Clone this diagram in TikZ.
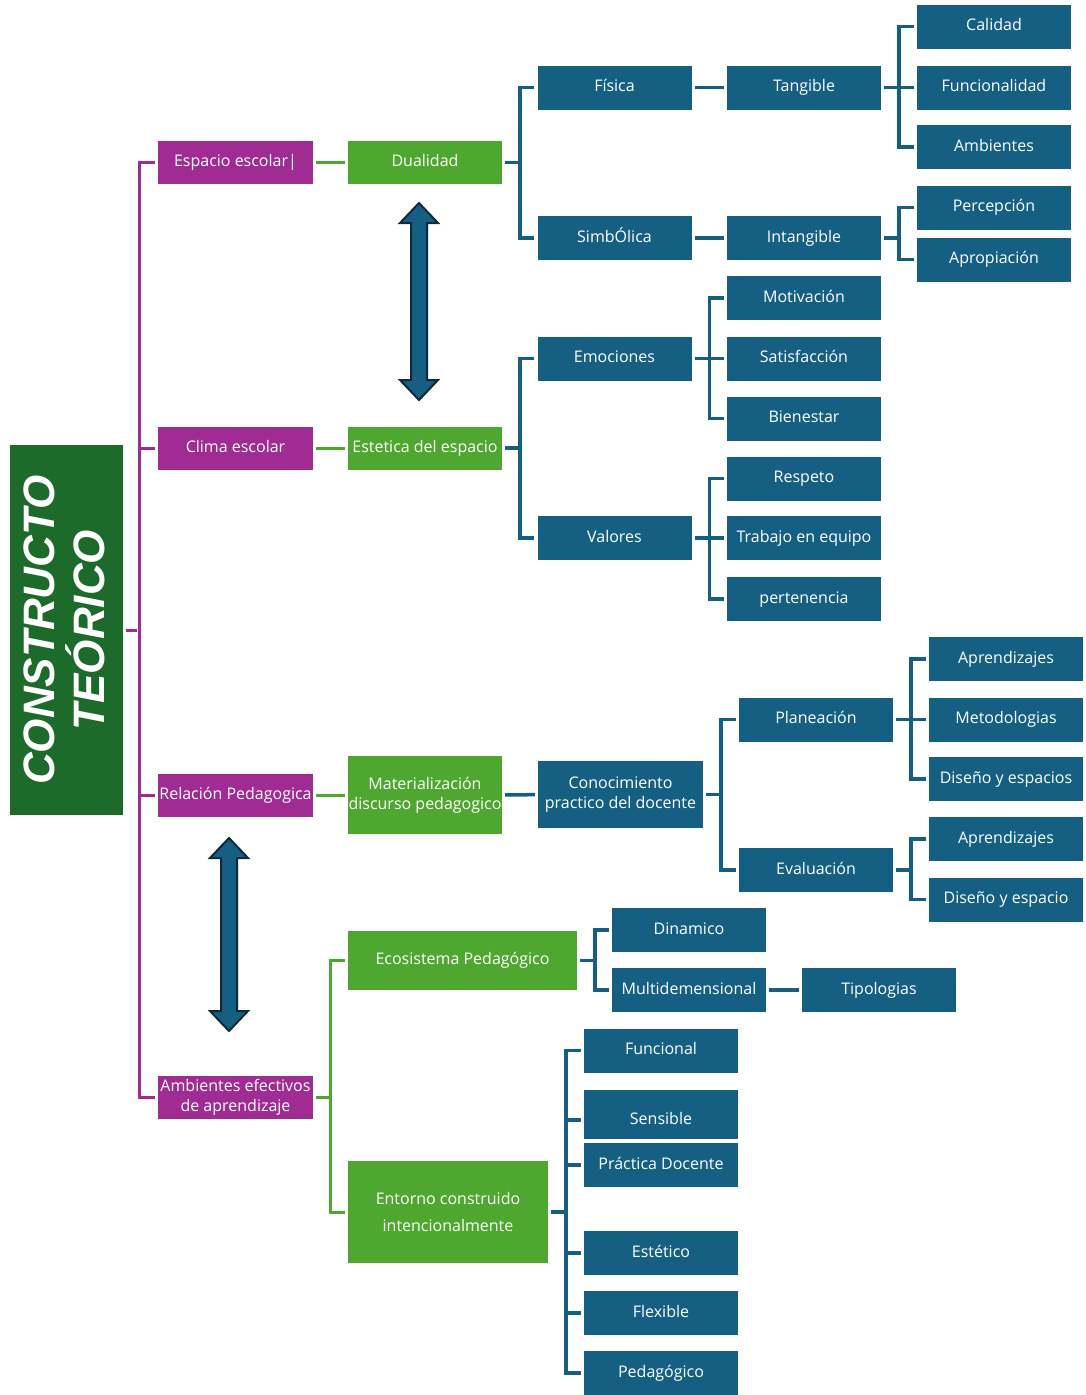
\documentclass[tikz,border=0pt]{standalone}
\usepackage{fontspec}
\setmainfont{Open Sans}
\newfontfamily\titlefont{Liberation Sans}
\definecolor{cblue}{HTML}{156082}
\definecolor{cpurple}{HTML}{A02B93}
\definecolor{cgreen}{HTML}{4EA72E}
\definecolor{cdgreen}{HTML}{1D6B2B}
\definecolor{cdark}{HTML}{0E2A3A}
\tikzset{
  box/.style={rectangle, inner sep=0pt, text=white, align=center, minimum width=154pt, minimum height=44pt},
  one/.style={text height=11.5pt, text depth=3.5pt},
  bb/.style={box, fill=cblue},
  pb/.style={box, fill=cpurple, minimum width=155pt, minimum height=43pt},
  gb/.style={box, fill=cgreen, minimum height=43pt},
  bl/.style={draw=cblue, line width=3.5pt, shorten <=3pt, shorten >=3pt},
  pu/.style={draw=cpurple, line width=3pt, shorten <=3pt, shorten >=3pt},
  gl/.style={draw=cgreen, line width=3pt, shorten <=3pt, shorten >=3pt},
  darrow/.style={fill=cblue, draw=cdark, line width=2pt, line join=miter}
}
\begin{document}
\begin{tikzpicture}[x=1pt,y=-1pt,font=\fontsize{16}{20}\selectfont]
\useasboundingbox (0,0) rectangle (1085,1395);
\fill[white] (0,0) rectangle (1085,1395);

% title
\node[fill=cdgreen, minimum width=113pt, minimum height=370pt, inner sep=0pt] (main) at (66.5,630) {};
\node[rotate=90, text=white, align=center, font=\titlefont\bfseries\itshape\fontsize{44}{50}\selectfont] (title) at (64,630) {CONSTRUCTO\\TEÓRICO};

% purple
\node[pb,one] (esp) at (235.5,162.5) {Espacio escolar|};
\node[pb,one] (clima) at (235.5,448) {Clima escolar};
\node[pb,one] (rel) at (235.5,795) {Relación Pedagogica};
\node[pb] (amb) at (235.5,1097) {Ambientes efectivos\\de aprendizaje};

% green
\node[gb,one] (dual) at (425,162.5) {Dualidad};
\node[gb,one] (est) at (425,448) {Estetica del espacio};
\node[gb, minimum height=78pt] (mat) at (425,795) {Materialización\\discurso pedagogico};
\node[gb,one, minimum width=229pt, minimum height=59pt] (eco) at (462.5,960.5) {Ecosistema Pedagógico};
\node[gb, minimum width=200pt, minimum height=102pt, font=\fontsize{16}{27}\selectfont] (ent) at (448,1212) {Entorno construido\\intencionalmente};

% blue - dualidad
\node[bb,one] (fis) at (614.5,87.5) {Física};
\node[bb,one] (sim) at (614.5,238) {SimbÓlica};
\node[bb,one] (tan) at (804,87.5) {Tangible};
\node[bb,one] (intg) at (804,238) {Intangible};
\node[bb,one] (cal) at (994,26.5) {Calidad};
\node[bb,one] (fun) at (994,87.5) {Funcionalidad};
\node[bb,one] (ambi) at (994,147) {Ambientes};
\node[bb,one] (perc) at (994,207.5) {Percepción};
\node[bb,one] (apro) at (994,259.5) {Apropiación};

% blue - estetica
\node[bb,one] (emo) at (614.5,358.5) {Emociones};
\node[bb,one] (val) at (614.5,538) {Valores};
\node[bb,one] (mot) at (804,298) {Motivación};
\node[bb,one] (sat) at (804,358.5) {Satisfacción};
\node[bb,one] (bie) at (804,418.5) {Bienestar};
\node[bb,one] (res) at (804,478.5) {Respeto};
\node[bb,one] (tra) at (804,538) {Trabajo en equipo};
\node[bb,one] (pert) at (804,599) {pertenencia};

% blue - materializacion
\node[bb, minimum width=165pt, minimum height=67pt] (con) at (620.5,794.5) {Conocimiento\\practico del docente};
\node[bb,one] (pla) at (816,719.5) {Planeación};
\node[bb,one] (eva) at (816,870) {Evaluación};
\node[bb,one] (apa) at (1006,659) {Aprendizajes};
\node[bb,one] (met) at (1006,719.5) {Metodologias};
\node[bb,one] (dis) at (1006,779) {Diseño y espacios};
\node[bb,one] (apb) at (1006,839) {Aprendizajes};
\node[bb,one] (disb) at (1006,899.5) {Diseño y espacio};

% blue - ecosistema
\node[bb,one] (din) at (689,930) {Dinamico};
\node[bb,one] (mul) at (689,990) {Multidemensional};
\node[bb,one] (tip) at (879,990) {Tipologias};

% blue - entorno
\node[bb,one] (func) at (661,1050.5) {Funcional};
\node[bb,one, minimum height=49pt] (sen) at (661,1114.5) {\raisebox{-6pt}{Sensible}};
\node[bb,one] (pra) at (661,1165) {Práctica Docente};
\node[bb,one] (este) at (661,1253) {Estético};
\node[bb,one] (flex) at (661,1313) {Flexible};
\node[bb,one] (ped) at (661,1373) {Pedagógico};

% purple connectors
\coordinate (sp) at ([xshift=-18pt]esp.west);
\draw[pu] (main.east) -- (main.east -| sp);
\foreach \n in {clima,rel,amb} \draw[pu] (esp.west) -- ++(-18,0) |- (\n.west);

% green connectors
\draw[gl] (esp.east) -- (dual.west);
\draw[gl] (clima.east) -- (est.west);
\draw[gl] (rel.east) -- (mat.west);
\foreach \n in {eco,ent} \draw[gl] (amb.east) -- ++(17,0) |- (\n.west);

% blue connectors
\foreach \n in {fis,sim} \draw[bl] (dual.east) -- ++(18,0) |- (\n.west);
\draw[bl] (fis) -- (tan);
\draw[bl] (sim) -- (intg);
\foreach \n in {cal,fun,ambi} \draw[bl] (tan.east) -- ++(18,0) |- (\n.west);
\foreach \n in {perc,apro} \draw[bl] (intg.east) -- ++(18,0) |- (\n.west);
\foreach \n in {emo,val} \draw[bl] (est.east) -- ++(18,0) |- (\n.west);
\foreach \n in {mot,sat,bie} \draw[bl] (emo.east) -- ++(18,0) |- (\n.west);
\foreach \n in {res,tra,pert} \draw[bl] (val.east) -- ++(18,0) |- (\n.west);
\draw[bl] (mat) -- (con);
\foreach \n in {pla,eva} \draw[bl] (con.east) -- ++(18,0) |- (\n.west);
\foreach \n in {apa,met,dis} \draw[bl] (pla.east) -- ++(18,0) |- (\n.west);
\foreach \n in {apb,disb} \draw[bl] (eva.east) -- ++(18,0) |- (\n.west);
\foreach \n in {din,mul} \draw[bl] (eco.east) -- ++(18,0) |- (\n.west);
\draw[bl] (mul) -- (tip);
\foreach \n in {func,pra,este,flex,ped} \draw[bl] (ent.east) -- ++(18,0) |- (\n.west);
\draw[bl] (ent.east) -- ++(18,0) |- ([yshift=-5.5pt]sen.west);

% double arrows
\draw[darrow] (419,203) -- (438,223) -- (427,223) -- (427,380) -- (438,380) -- (419,400)
  -- (400,380) -- (411,380) -- (411,223) -- (400,223) -- cycle;
\draw[darrow] (229,838) -- (248,858) -- (237,858) -- (237,1011) -- (248,1011) -- (229,1031)
  -- (210,1011) -- (221,1011) -- (221,858) -- (210,858) -- cycle;
\end{tikzpicture}
\end{document}
